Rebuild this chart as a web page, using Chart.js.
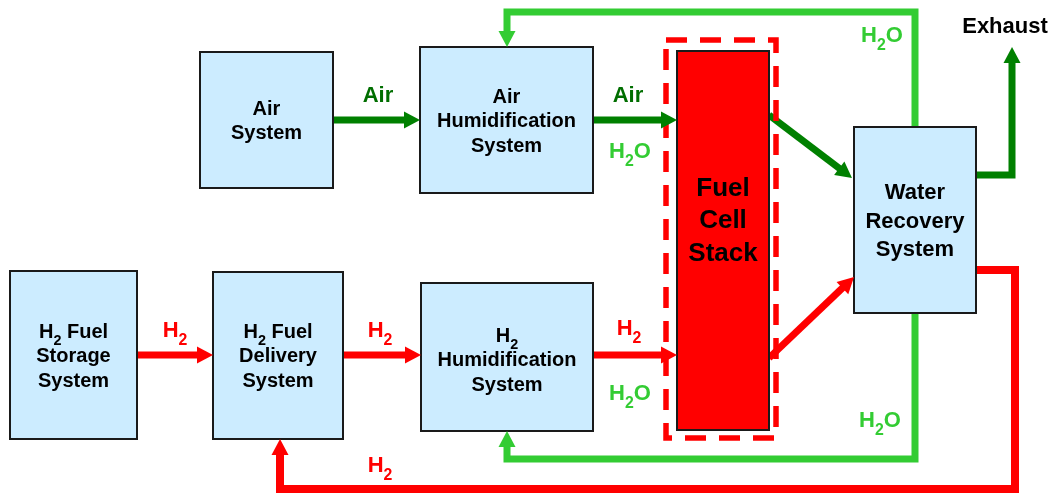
<!DOCTYPE html>
<html><head><meta charset="utf-8">
<script src="https://cdn.jsdelivr.net/npm/chart.js@4.4.1/dist/chart.umd.min.js"></script>
<style>html,body{margin:0;padding:0;background:#fff;overflow:hidden}#wrap{width:1055px;height:493px;position:relative}</style>
</head><body><div id="wrap"><canvas id="c"></canvas></div>
<script>
// ---- Blocks (diagram coordinates, in axis units) ----
const blockNames = ['Air System','Air Humidification System','H2 Fuel Storage System','H2 Fuel Delivery System','H2 Humidification System','Fuel Cell Stack','Water Recovery System'];
const blockLines = [['Air','System'],['Air','Humidification','System'],['H_2 Fuel','Storage','System'],['H_2 Fuel','Delivery','System'],['H_2','Humidification','System'],['Fuel','Cell','Stack'],['Water','Recovery','System']];
const blockLeft   = [200, 420, 10, 213, 421, 677, 854];
const blockTop    = [52, 47, 271, 272, 283, 51, 127];
const blockRight  = [333, 593, 137, 343, 593, 769, 976];
const blockBottom = [188, 193, 439, 439, 431, 430, 313];
const blockTextY  = [120, 120, 355, 355, 359, 219, 220];
const blockKind   = ['sys','sys','sys','sys','sys','stack','sys'];

// ---- Stack enclosure (dashed) ----
const encloseX = [666, 776, 776, 666, 666];
const encloseY = [40, 40, 438, 438, 40];

// ---- Flows ----
const flowNames = ['Air in','Air to stack','Cathode exhaust','Exhaust','H2O to air humidifier','H2 storage to delivery','H2 delivery to humidifier','H2 to stack','Anode exhaust','H2 recirculation','H2O to H2 humidifier'];
const flowX = [[333,420],[593,677],[769,852],[976,1012,1012],[915,915,507,507],[137,213],[343,421],[593,677],[769,854],[976,1015,1015,280,280],[915,915,507,507]];
const flowY = [[120,120],[120,120],[115,178],[175,175,47],[127,12,12,47],[355,355],[355,355],[355,355],[358,277],[270,270,489,489,439],[313,459,459,431]];
const flowKind = ['air','air','air','air','water','h2','h2','h2','h2','h2','water'];

// ---- Free labels ----
const labelTexts = ['Air','Air','H_2O','H_2O','Exhaust','H_2','H_2','H_2','H_2O','H_2','H_2O'];
const labelX = [378, 628, 630, 882, 1005, 175, 380, 629, 630, 380, 880];
const labelY = [102, 102, 158, 42, 33, 337, 337, 335, 400, 472, 427];
const labelKind = ['airText','airText','water','water','text','h2','h2','h2','water','h2','water'];

const COLORS = {air:'#008000', airText:'#006E00', water:'#33CC33', h2:'#FF0000', text:'#000000'};
const FONT = '"Liberation Sans", Arial, Helvetica, sans-serif';
const HEAD_LEN = 16, HEAD_HALF = 8.5;

function toPts(xs, ys){ return xs.map((x,i)=>({x:x, y:ys[i]})); }

const datasets = [];
datasets.push({
  label:'Stack enclosure', data: toPts(encloseX, encloseY), showLine:true,
  borderColor:'#FF0000', borderWidth:5.5, borderDash:[21,13], pointRadius:0, fill:false, tension:0,
  borderCapStyle:'butt', borderJoinStyle:'miter'
});
flowNames.forEach((name,i)=>{
  const pts = toPts(flowX[i], flowY[i]);
  const n = pts.length;
  const a = pts[n-2], b = pts[n-1];
  const dx = b.x-a.x, dy = b.y-a.y, L = Math.hypot(dx,dy);
  pts[n-1] = {x: b.x - dx/L*(HEAD_LEN-2), y: b.y - dy/L*(HEAD_LEN-2)};
  datasets.push({
    label:name, data:pts, showLine:true, borderColor:COLORS[flowKind[i]],
    borderWidth: name==='H2 recirculation' ? 8 : 7, pointRadius:0, fill:false, tension:0,
    borderCapStyle:'butt', borderJoinStyle:'miter'
  });
});

function richWidth(ctx, str, size){
  const parts = str.split(/(_\d)/).filter(Boolean);
  let w = 0;
  parts.forEach(p=>{
    if (p[0]==='_'){ ctx.font = 'bold '+(size*0.72)+'px '+FONT; w += ctx.measureText(p.slice(1)).width; }
    else { ctx.font = 'bold '+size+'px '+FONT; w += ctx.measureText(p).width; }
  });
  return w;
}
function drawRich(ctx, str, cx, by, size, color){
  const parts = str.split(/(_\d)/).filter(Boolean);
  let x = cx - richWidth(ctx, str, size)/2;
  ctx.fillStyle = color; ctx.textAlign = 'left'; ctx.textBaseline = 'alphabetic';
  parts.forEach(p=>{
    if (p[0]==='_'){
      ctx.font = 'bold '+(size*0.72)+'px '+FONT;
      ctx.fillText(p.slice(1), x, by + size*0.36);
      x += ctx.measureText(p.slice(1)).width;
    } else {
      ctx.font = 'bold '+size+'px '+FONT;
      ctx.fillText(p, x, by);
      x += ctx.measureText(p).width;
    }
  });
}

const diagramPlugin = {
  id:'diagram',
  afterDatasetsDraw(chart){
    const ctx = chart.ctx, xs = chart.scales.x, ys = chart.scales.y;
    const px = v=>xs.getPixelForValue(v), py = v=>ys.getPixelForValue(v);
    ctx.save();
    // blocks
    blockNames.forEach((nm,i)=>{
      const x0=px(blockLeft[i]), y0=py(blockTop[i]), x1=px(blockRight[i]), y1=py(blockBottom[i]);
      ctx.fillStyle = blockKind[i]==='stack' ? '#FF0000' : '#CCECFF';
      ctx.fillRect(x0,y0,x1-x0,y1-y0);
      ctx.lineWidth = 2; ctx.strokeStyle = '#1a1a1a';
      ctx.strokeRect(x0,y0,x1-x0,y1-y0);
      const lines = blockLines[i];
      const size = blockKind[i]==='stack' ? 26 : (i===6 ? 22 : 20);
      const lh = blockKind[i]==='stack' ? 32.5 : (i===6 ? 28.5 : 24.5);
      const cx = (x0+x1)/2, cy = py(blockTextY[i]);
      lines.forEach((t,k)=>{
        const by = cy + (k-(lines.length-1)/2)*lh + size*0.36;
        drawRich(ctx, t, cx, by, size, '#000');
      });
    });
    // arrowheads
    flowNames.forEach((nm,i)=>{
      const n = flowX[i].length;
      const ax=px(flowX[i][n-2]), ay=py(flowY[i][n-2]), bx=px(flowX[i][n-1]), by=py(flowY[i][n-1]);
      const dx=bx-ax, dy=by-ay, L=Math.hypot(dx,dy), ux=dx/L, uy=dy/L;
      const baseX = bx-ux*HEAD_LEN, baseY = by-uy*HEAD_LEN;
      ctx.fillStyle = COLORS[flowKind[i]];
      ctx.beginPath();
      ctx.moveTo(bx,by);
      ctx.lineTo(baseX - uy*HEAD_HALF, baseY + ux*HEAD_HALF);
      ctx.lineTo(baseX + uy*HEAD_HALF, baseY - ux*HEAD_HALF);
      ctx.closePath(); ctx.fill();
    });
    // labels
    labelTexts.forEach((t,i)=>{
      drawRich(ctx, t, px(labelX[i]), py(labelY[i]), 22, COLORS[labelKind[i]]);
    });
    ctx.restore();
  }
};

new Chart(document.getElementById('c'), {
  type:'scatter',
  data:{datasets},
  options:{
    responsive:true, maintainAspectRatio:false, animation:false, events:[],
    layout:{padding:0},
    plugins:{legend:{display:false}, tooltip:{enabled:false}, title:{display:false}},
    scales:{
      x:{type:'linear', min:0, max:1055, display:false},
      y:{type:'linear', min:0, max:493, reverse:true, display:false}
    }
  },
  plugins:[diagramPlugin]
});
</script></body></html>
